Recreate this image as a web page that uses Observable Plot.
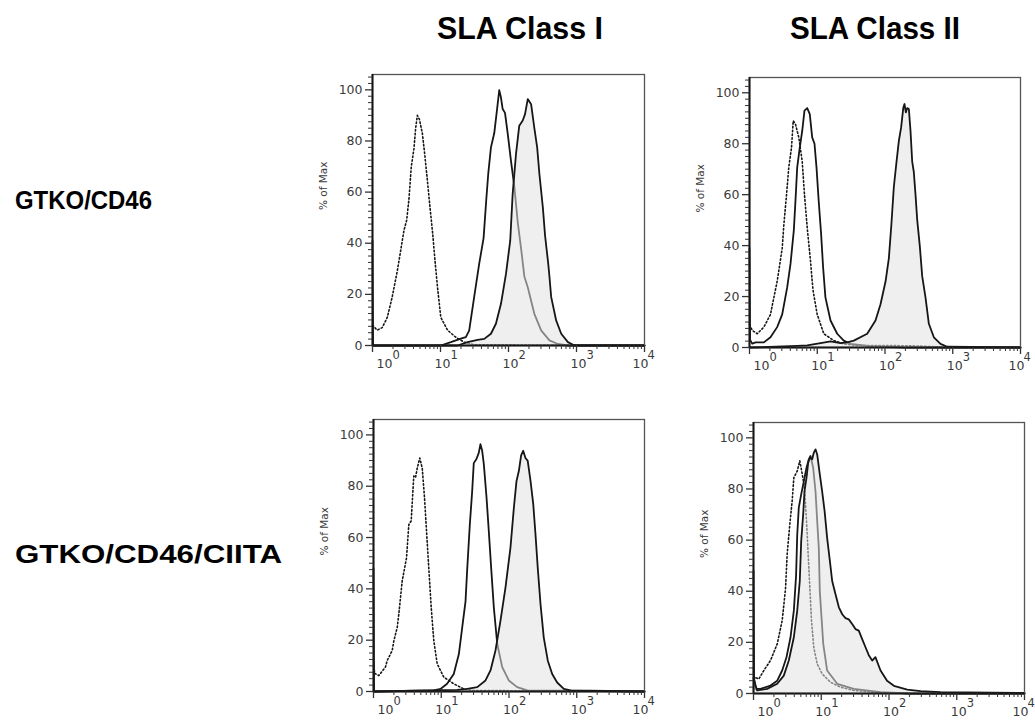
<!DOCTYPE html>
<html><head><meta charset="utf-8">
<script src="https://cdn.jsdelivr.net/npm/d3@7"></script>
<script src="https://cdn.jsdelivr.net/npm/@observablehq/plot@0.6"></script>
<style>
body{margin:0;background:#fff;}
#root{position:relative;width:1035px;height:720px;overflow:hidden;font-family:"Liberation Sans",Arial,sans-serif;background:#fff;}
#root > svg{position:absolute;}
</style></head><body><div id="root"></div>
<script>
// ---- labels / ticks ----
const colTitles = ["SLA Class I", "SLA Class II"];
const rowTitles = ["GTKO/CD46", "GTKO/CD46/CIITA"];
const yLabel = "% of Max";
const yMajor = [0, 20, 40, 60, 80, 100];
const xMajor = [1, 10, 100, 1000, 10000];
const xTickBase = "10";
const xTickExp = ["0", "1", "2", "3", "4"];

// ---- histogram data: [fluorescence intensity, % of max] ----
// SLA Class I, GTKO/CD46
const c1_cd46_isotype = [[1.0,8],[1.17,6],[1.39,7],[1.65,11],[1.95,19],[2.31,29],[2.59,37],[2.9,45],[3.18,49],[3.43,57],[3.72,70],[4.07,77],[4.31,85],[4.57,90],[4.89,88.5],[5.41,83],[5.85,75],[6.42,64.5],[7.01,54],[7.68,43.7],[8.31,33],[9.02,23],[10.1,11],[12.7,6],[16.8,3.2],[22.3,1.3],[31.3,0.3],[10000,0]];
const c1_cd46_open = [[1,41],[1.02,0],[10.1,0],[14.2,1.3],[19.9,2.7],[23.6,3.3],[26.4,5.8],[31.3,19],[37.1,32],[43,42],[47,56.6],[50.3,67],[55.2,77.5],[61.7,83],[67.6,92],[73.1,99.9],[77.5,97],[82.1,92.5],[88.8,91],[97.3,83],[109,72],[122,62],[137,48],[153,38],[171,27],[192,22.8],[240,12.4],[302,5.9],[400,2],[532,0.6],[748,0],[10000,0]];
const c1_cd46_filled = [[1,0],[17.8,0],[25,1.3],[35.1,2.2],[44,2.6],[55.2,4.6],[65.3,8.5],[77.5,16.3],[91.8,28],[106,41],[115,59],[129,75],[144,86],[162,88],[175,90.5],[192,96.4],[215,94.4],[240,85],[264,77.5],[285,67],[320,54],[345,43],[384,32],[400,27],[424,19],[502,9.8],[596,4.6],[748,1.3],[936,0],[10000,0]];
// SLA Class II, GTKO/CD46
const c2_cd46_isotype = [[1.0,9],[1.1,6.7],[1.3,5.4],[1.63,8],[2.04,13],[2.56,26],[3.04,39],[3.21,48],[3.52,60],[3.8,70.7],[4.17,78.5],[4.42,89],[4.77,87.7],[5.34,82.5],[6.0,73],[6.48,60],[7.11,47],[7.95,34],[8.42,26],[8.71,22],[9.98,13],[12.5,5.4],[17.6,2.7],[24.6,1.4],[38.9,0.8],[100,0.8],[300,0.6],[1000,0],[10000,0]];
const c2_cd46_open = [[1,39],[1.02,3],[1.1,1.5],[1.23,2],[1.63,2],[2.04,4],[2.56,8],[3.04,13],[3.6,23.6],[4.03,32.8],[4.51,46],[4.77,57.6],[5.06,70.7],[5.52,78.5],[6.0,85],[6.48,93],[7.11,94],[7.76,91.6],[8.42,82.5],[9.11,80],[9.75,70.7],[10.5,57.6],[11.4,44.6],[12.2,31.5],[13.2,19.7],[15.7,10.6],[19.7,5.4],[24.6,2.7],[31,1.4],[60,0.5],[200,0],[10000,0]];
const c2_cd46_filled = [[1,0],[5.06,0.6],[7.11,0.8],[11.2,1.7],[15.7,2.4],[22,1.7],[27.7,2],[34.6,2.7],[54.6,5.4],[72.4,10.6],[85.9,17],[102,26],[114,35],[124,48],[135,63],[148,73],[160,81],[173,86.4],[186,94],[194,95.6],[203,92.3],[213,94],[225,93.6],[238,85],[252,73],[266,69],[282,60],[299,50],[326,40],[354,28],[396,19.7],[444,9.3],[526,4],[660,1.4],[828,0.3],[10000,0]];
// SLA Class I, GTKO/CD46/CIITA
const c1_ciita_isotype = [[1.0,10],[1.05,7],[1.2,6.2],[1.5,9.5],[1.59,12],[1.89,16],[2.0,19.8],[2.24,25],[2.36,30],[2.65,43],[3.07,52],[3.32,65],[3.6,66.5],[3.93,84],[4.17,83.4],[4.42,87],[4.82,91],[5.24,87],[5.66,75.6],[6.06,62.6],[6.55,48],[7.11,32.8],[7.76,19.8],[8.71,10.8],[10.9,5.6],[15.3,3],[21.5,1],[30.2,0.4],[10000,0]];
const c1_ciita_open = [[1,48],[1.02,0],[7.76,0.4],[9.75,1],[12.2,3],[15.3,6.8],[18.2,14.6],[20.4,25],[22.8,35],[24.2,48],[26.4,65],[28.6,78],[30.2,89],[33.1,90.6],[35.8,93],[37.9,96.4],[40.2,93.8],[42.5,88.6],[46.6,75.6],[50.3,62.6],[54.6,48],[59.7,32.8],[67,18.6],[79.4,9.5],[99.3,4.3],[132,1.7],[186,0.4],[10000,0]];
const c1_ciita_filled = [[1,0],[17.2,0.6],[24.2,1],[34,1.7],[45,4.3],[53.3,8.2],[63.2,16],[74.9,27.6],[88.8,40.6],[105,56],[118,71.6],[129,82],[140,86],[151,92],[162,93.8],[175,91],[189,89.9],[208,82],[228,73],[246,61.3],[266,48],[292,34],[326,21],[374,12],[434,6.8],[514,3.5],[644,1],[809,0.4],[10000,0]];
// SLA Class II, GTKO/CD46/CIITA
const c2_ciita_isotype = [[1.0,10],[1.01,6.4],[1.2,5.7],[1.42,9],[1.78,12.9],[2.24,19.4],[2.65,28.5],[2.97,41],[3.14,54.5],[3.43,66],[3.72,75.3],[3.94,84.4],[4.42,87],[4.82,91],[5.24,85.8],[5.66,80.5],[6.06,67.5],[6.41,54.5],[6.78,41.5],[7.18,28.5],[7.76,18],[8.71,11.6],[10.3,7.7],[13.7,4.4],[19.2,2.5],[30.2,1.2],[59.7,0.5],[200,0],[10000,0]];
const c2_ciita_open = [[1,48],[1.02,6],[1.07,1.8],[1.27,1.8],[1.78,3.1],[2.24,5],[2.65,9],[3.07,14.2],[3.52,22],[3.94,32.4],[4.25,46],[4.42,62],[4.66,72.7],[5.06,77.9],[5.53,83],[6.06,88.3],[6.55,91.6],[6.94,92.9],[7.6,88.3],[8.23,79],[8.71,67.5],[9.2,57],[9.52,40],[10.7,19.4],[12.2,9],[17.2,3.8],[30.2,1.8],[75,0.5],[200,0],[10000,0]];
const c2_ciita_filled = [[1,6],[1.13,1.2],[1.59,1.8],[2.24,3.8],[2.8,7],[3.32,12.9],[3.94,22],[4.42,32.4],[4.82,44],[5.06,59.7],[5.41,70],[5.66,79.2],[6.06,84.4],[6.41,90.2],[6.78,92.2],[7.35,91.6],[7.76,94.2],[8.23,95.5],[8.71,93.5],[9.52,85.7],[10.3,79.2],[11.2,71.4],[12.2,61],[13.4,51.9],[14.5,44],[16.2,38.9],[18.2,33.7],[20.4,31],[22.8,29.5],[25.5,29],[28.6,27.2],[32,25.2],[35.8,24.6],[40.2,21.3],[45,18.1],[50.3,15],[56.5,12.9],[63,14.2],[75,9],[93.6,5],[118,3],[186,1.5],[292,0.9],[575,0.5],[10000,0.2]];

// ---- ticks (positions only) ----
const yMinor = d3.range(0, 105.1, 2.5).filter(v => v % 20 !== 0);
const xMinor = [1, 10, 100, 1000].flatMap(p => d3.range(2, 10).map(m => m * p));

const root = document.getElementById("root");
const X = d => d[0], Y = d => d[1];
const INK = "#161616";
const TXT = "#3a3a3a";

function panel({iso, open, filled, left, top, w, h}) {
  const mL = 80, mT = 8, mR = 8, mB = 36;
  const first = xMajor.slice(0, 1), mid = xMajor.slice(1, 4), last = xMajor.slice(4);
  const lbl = (data, dx) => Plot.text(data, {x: d => d, frameAnchor: "bottom", dy: 22, dx, text: () => xTickBase, fontSize: 12.5, fill: TXT});
  const sup = (data, dx) => Plot.text(data, {x: d => d, frameAnchor: "bottom", dy: 13, dx, text: d => xTickExp[xMajor.indexOf(d)], textAnchor: "start", fontSize: 11.5, fill: TXT});
  const svg = Plot.plot({
    width: w + mL + mR, height: h + mT + mB,
    marginLeft: mL, marginTop: mT, marginRight: mR, marginBottom: mB,
    x: {type: "log", domain: [1, 10000]},
    y: {domain: [0, 106]},
    style: {fontFamily: "'DejaVu Sans', Verdana, sans-serif", color: TXT, background: "transparent", overflow: "visible"},
    marks: [
      Plot.line(iso, {x: X, y: Y, stroke: INK, strokeWidth: 1.6, strokeDasharray: "1.5,2.3"}),
      Plot.line(open, {x: X, y: Y, stroke: INK, strokeWidth: 1.8}),
      Plot.areaY(filled, {x: X, y: Y, fill: "#e2e2e2", fillOpacity: 0.55}),
      Plot.line(filled, {x: X, y: Y, stroke: INK, strokeWidth: 1.8}),
      Plot.frame({stroke: "#555", strokeWidth: 1.3}),
      Plot.ruleY([0], {stroke: INK, strokeWidth: 2}),
      Plot.ruleX([1], {stroke: INK, strokeWidth: 2}),
      Plot.axisY(yMajor, {tickSize: 7, tickPadding: 3, fontSize: 12.5, label: null, stroke: "#333", strokeWidth: 1.3}),
      Plot.axisY(yMinor, {tickSize: 4, tickFormat: () => "", label: null, stroke: "#333"}),
      Plot.axisX(xMajor, {tickSize: 7, tickFormat: () => "", label: null, stroke: "#333", strokeWidth: 1.3}),
      Plot.axisX(xMinor, {tickSize: 4, tickFormat: () => "", label: null, stroke: "#333"}),
      lbl(first, 12), lbl(mid, 2), lbl(last, -4),
      sup(first, 20), sup(mid, 10), sup(last, 3),
      Plot.text([yLabel], {frameAnchor: "left", dx: -49, rotate: -90, fontSize: 10.5, fill: TXT})
    ]
  });
  svg.style.left = (left - mL) + "px";
  svg.style.top = (top - mT) + "px";
  root.appendChild(svg);
}

panel({iso: c1_cd46_isotype, open: c1_cd46_open, filled: c1_cd46_filled, left: 372, top: 74, w: 272, h: 271});
panel({iso: c2_cd46_isotype, open: c2_cd46_open, filled: c2_cd46_filled, left: 749, top: 77, w: 271, h: 270});
panel({iso: c1_ciita_isotype, open: c1_ciita_open, filled: c1_ciita_filled, left: 373, top: 419, w: 271, h: 272});
panel({iso: c2_ciita_isotype, open: c2_ciita_open, filled: c2_ciita_filled, left: 753, top: 422, w: 271, h: 271});

// ---- titles ----
const NS = "http://www.w3.org/2000/svg";
const lab = document.createElementNS(NS, "svg");
lab.setAttribute("width", 1035); lab.setAttribute("height", 720);
lab.style.left = "0px"; lab.style.top = "0px";
function addText(str, x, y, size, len) {
  const t = document.createElementNS(NS, "text");
  t.setAttribute("x", x); t.setAttribute("y", y);
  t.setAttribute("font-size", size); t.setAttribute("font-weight", "bold");
  t.setAttribute("font-family", "'Liberation Sans', Arial, sans-serif");
  t.setAttribute("textLength", len); t.setAttribute("lengthAdjust", "spacingAndGlyphs");
  t.setAttribute("fill", "#000");
  t.textContent = str;
  lab.appendChild(t);
}
addText(colTitles[0], 437, 39, 31, 166);
addText(colTitles[1], 790, 39, 31, 170);
addText(rowTitles[0], 15, 209, 26, 137);
addText(rowTitles[1], 15, 563, 26, 267);
root.insertBefore(lab, root.firstChild);
</script>
</body></html>
